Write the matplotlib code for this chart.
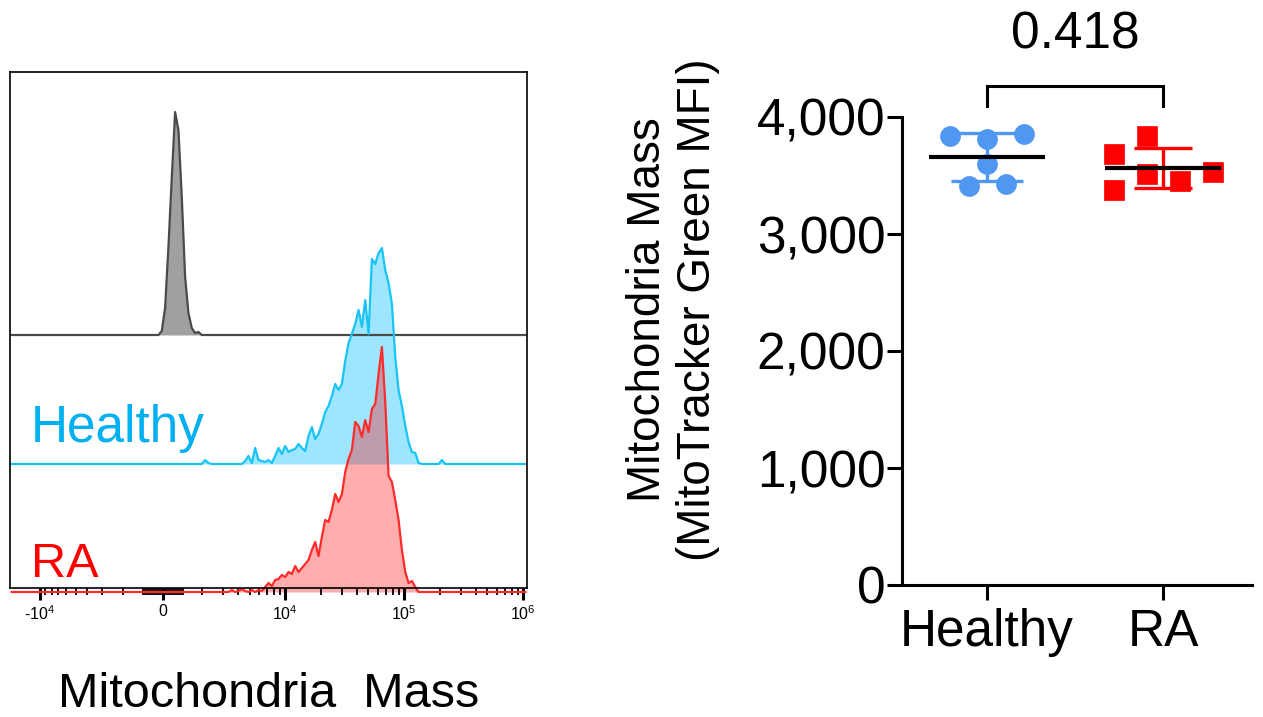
import numpy as np
import matplotlib
matplotlib.use("Agg")
import matplotlib.pyplot as plt

plt.rcParams["font.family"] = ["Liberation Sans", "DejaVu Sans"]
plt.rcParams["mathtext.fontset"] = "custom"
plt.rcParams["mathtext.rm"] = "Liberation Sans"
plt.rcParams["mathtext.it"] = "Liberation Sans:italic"
plt.rcParams["mathtext.bf"] = "Liberation Sans:bold"

# ---- left panel: flow histograms (counts per display channel) ----
N_CHANNELS = 155
X_RANGE = (-17900, 1.08e6)
GRAY_START = 44
GRAY_COUNTS = [0, 4, 27, 88, 157, 223, 205, 138, 58, 22, 7, 2, 3, 0]
BLUE_START = 57
BLUE_COUNTS = [0, 4, 1, 0, 0, 0, 0, 0, 0, 0, 0, 0, 0,
               3, 8, 1, 16, 4, 3, 2, 4, 1, 8, 16, 10, 18, 12, 14, 15, 20, 16,
               13, 28, 37, 25, 30, 40, 52, 58, 68, 80, 74, 80, 103, 121, 130,
               140, 154, 137, 164, 130, 205, 200, 211, 216, 194, 181, 160, 107,
               74, 58, 38, 22, 12, 11, 1, 0, 0, 0, 0, 0, 0, 4, 0]
RED_START = 66
RED_COUNTS = [2, 0, 1, 3, 1, 0, 2, 0, 2, 1,
              5, 9, 6, 12, 13, 17, 15, 20, 18, 26,
              20, 24, 28, 32, 42, 50, 36, 55, 72, 70,
              82, 98, 90, 98, 120, 133, 142, 170, 166, 155,
              172, 160, 183, 188, 218, 245, 190, 116, 110, 92,
              72, 42, 20, 9, 11, 5, 0]
LANE_LABELS = ["Healthy", "RA"]
MAJOR_TICKS = [-1e4, 0, 1e4, 1e5, 1e6]
MAJOR_LABELS = ["-$10^{4}$", "0", "$10^{4}$", "$10^{5}$", "$10^{6}$"]

# ---- right panel: MFI per donor ----
GROUPS = ["Healthy", "RA"]
HEALTHY_MFI = [3839, 3813, 3856, 3599, 3411, 3428]
RA_MFI = [3685, 3839, 3376, 3513, 3450, 3530]
P_TEXT = "0.418"

# swarm layout (slot index per point, slot width in axis units)
HEALTHY_SLOTS = [-1, 0, 1, 0, -0.5, 0.5]
RA_SLOTS = [-1.5, -0.5, -1.5, -0.5, 0.5, 1.5]

BLUE_LINE = "#18C4F5"
BLUE_TXT = "#00B0F0"
RED = "#FF2A2A"
DOT_BLUE = "#4F97F0"

W, H = 1263, 717
fig = plt.figure(figsize=(W / 100, H / 100), dpi=100)
ax1 = fig.add_axes([10 / W, (H - 588) / H, 517 / W, 516 / H])
ax2 = fig.add_axes([902 / W, (H - 585) / H, 350 / W, 468 / H])

# left panel
ax1.set_xscale("symlog", linthresh=2000, linscale=0.3)
ax1.set_xlim(*X_RANGE)
ax1.set_ylim(4, 520)

tr = ax1.xaxis.get_transform()
t0, t1 = tr.transform(np.array(X_RANGE).reshape(-1, 1)).ravel()
t_mid = t0 + (np.arange(N_CHANNELS) + 0.5) * (t1 - t0) / N_CHANNELS
chan_x = tr.inverted().transform(t_mid.reshape(-1, 1)).ravel()


def full(start, counts):
    arr = np.zeros(N_CHANNELS)
    arr[start:start + len(counts)] = counts
    return arr


lanes = [
    (full(GRAY_START, GRAY_COUNTS), 257, "#4A4A4A", "#A0A0A0", 1.0),
    (full(BLUE_START, BLUE_COUNTS), 128, BLUE_LINE, "#00BFFF", 0.38),
    (full(RED_START, RED_COUNTS), 0, RED, "#FF0000", 0.32),
]
for counts, off, lc, fc, a in lanes:
    ax1.fill_between(chan_x, off, off + counts, color=fc, alpha=a, lw=0,
                     clip_on=False)
    ax1.plot(chan_x, off + counts, color=lc, lw=1.6, clip_on=False)

ax1.text(0.04, 150, LANE_LABELS[0], transform=ax1.get_yaxis_transform(),
         color=BLUE_TXT, fontsize=37, va="baseline")
ax1.text(0.04, 15, LANE_LABELS[1], transform=ax1.get_yaxis_transform(),
         color="#FF0000", fontsize=35, va="baseline")

minor = []
for dec in [1e3, 1e4, 1e5]:
    minor += [m * dec for m in range(2, 10)]
minor += [-m * 1e3 for m in range(2, 10)]
minor += [m * 100 for m in range(-10, 11) if m != 0]
ax1.set_xticks(MAJOR_TICKS)
ax1.set_xticklabels(MAJOR_LABELS)
ax1.set_xticks(minor, minor=True)
ax1.tick_params(axis="x", which="major", direction="out", length=8.6,
                width=2.2, labelsize=11.5, pad=3)
ax1.tick_params(axis="x", which="minor", direction="out", length=5, width=1.3)
ax1.set_yticks([])
for s in ax1.spines.values():
    s.set_linewidth(1.2)

fig.text(269 / W, 1 - 707 / H, "Mitochondria  Mass", ha="center",
         va="baseline", fontsize=35)

# right panel
groups = [(HEALTHY_MFI, HEALTHY_SLOTS, 0.21, "o", DOT_BLUE, 26),
          (RA_MFI, RA_SLOTS, 0.1875, "s", "#FF0000", 21)]
for i, (vals, slots, sw, mk, col, cap) in enumerate(groups):
    vals = np.array(vals, dtype=float)
    m, sd = vals.mean(), vals.std(ddof=1)
    xs = i + np.array(slots) * sw
    ax2.scatter(xs, vals, s=207, marker=mk, color=col, edgecolors=col,
                linewidths=0.5, zorder=3)
    ax2.errorbar(i, m, yerr=sd, fmt="none", ecolor=col, elinewidth=2.4,
                 capsize=cap, capthick=2.4, zorder=2)
    ax2.hlines(m, i - 0.33, i + 0.33, color="black", lw=3, zorder=4)

ax2.plot([0, 0, 1, 1], [4094, 4265, 4265, 4094], color="black", lw=2.2,
         clip_on=False, solid_joinstyle="miter")
ax2.text(0.5, 4582, P_TEXT, ha="center", va="baseline", fontsize=37)

ax2.set_xlim(-0.483, 1.505)
ax2.set_ylim(0, 4000)
ax2.set_yticks([0, 1000, 2000, 3000, 4000])
ax2.yaxis.set_major_formatter(matplotlib.ticker.StrMethodFormatter("{x:,.0f}"))
ax2.set_xticks([0, 1])
ax2.set_xticklabels(GROUPS)
ax2.tick_params(axis="y", direction="out", length=10.8, width=2.2,
                labelsize=37, pad=1)
ax2.tick_params(axis="x", direction="out", length=10.8, width=2.2,
                labelsize=37, pad=6)
for side in ["top", "right"]:
    ax2.spines[side].set_visible(False)
for side in ["left", "bottom"]:
    ax2.spines[side].set_linewidth(2.2)

fig.text(673 / W, 1 - 310 / H, "Mitochondria Mass\n(MitoTracker Green MFI)",
         rotation=90, ha="center", va="center", fontsize=33,
         multialignment="center", linespacing=1.2)

fig.savefig("out.png", dpi=100)
